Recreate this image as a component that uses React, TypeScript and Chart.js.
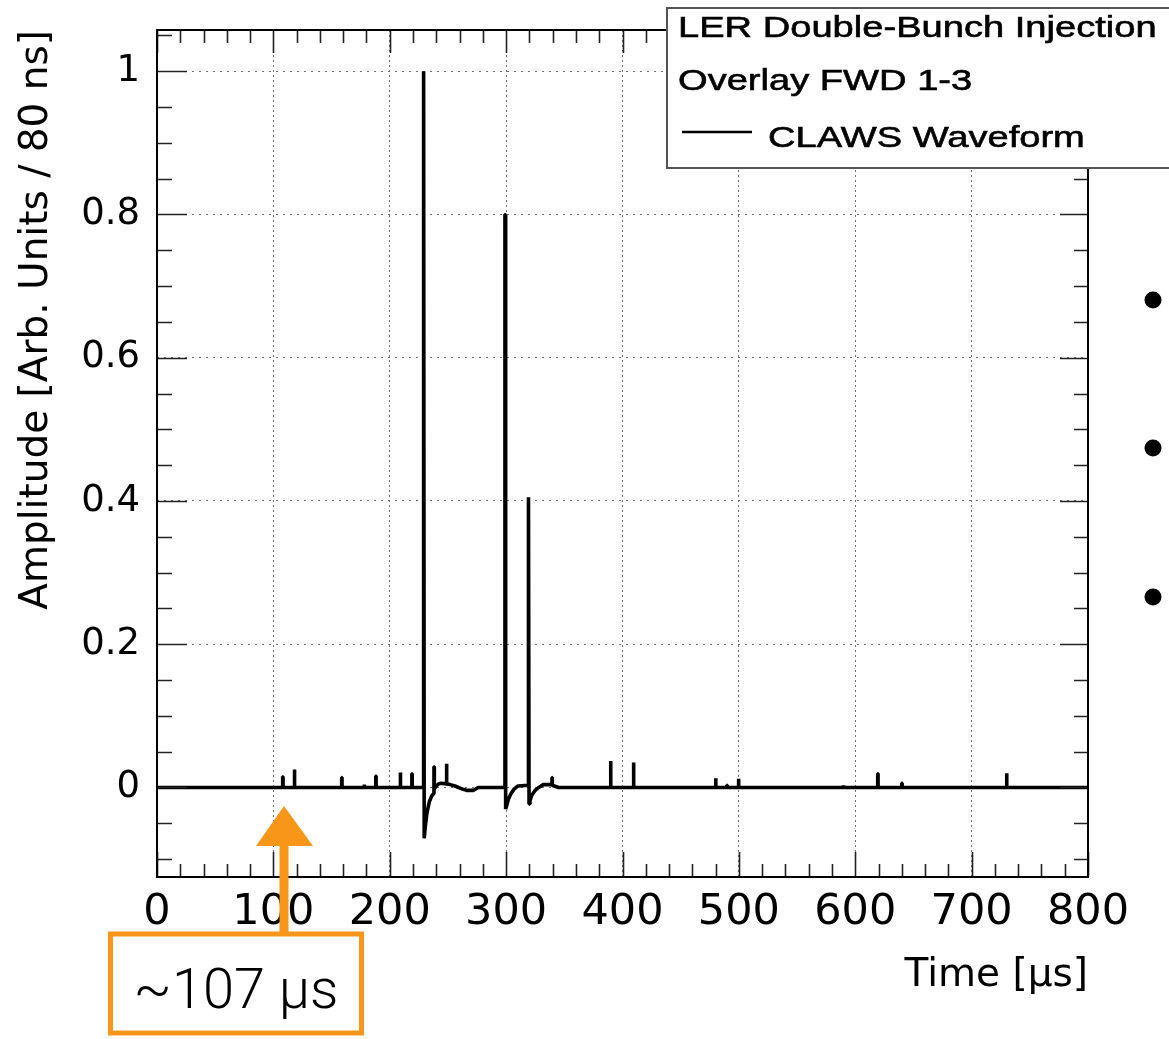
import React, { useEffect, useRef } from "react";
import { Chart, registerables } from "chart.js";

Chart.register(...registerables);

// ---- axis definitions ----
const xTickValues = [0, 100, 200, 300, 400, 500, 600, 700, 800];
const xTickLabels = ["0", "100", "200", "300", "400", "500", "600", "700", "800"];
const yTickValues = [0, 0.2, 0.4, 0.6, 0.8, 1];
const yTickLabels = ["0", "0.2", "0.4", "0.6", "0.8", "1"];
const xRange = [0, 800];
const yRange = [-0.125, 1.0575];

// ---- waveform data (time in µs, amplitude in arb. units) ----
// single-bin spikes sitting on the baseline
const spikeTimes = [108, 118, 158.7, 178, 188, 209, 219, 389.7, 409.4, 480, 489.7, 499.6, 570, 589.8, 619.3, 640, 680, 730];
const spikeHeights = [0.015, 0.025, 0.014, 0.004, 0.016, 0.021, 0.019, 0.037, 0.035, 0.013, 0.003, 0.012, 0.002, 0.003, 0.019, 0.006, 0.002, 0.02];

// first injection pulse (~229 µs) with undershoot and after-pulses
const pulse1Time = [228.9, 228.9, 229.3, 229.6, 230.5, 232, 234, 236, 238, 238, 238.3, 238.3, 240, 242, 244, 248.7, 248.7, 249, 249, 252, 256, 262, 266, 272, 276];
const pulse1Amp = [0, 1.0, 1.0, -0.071, -0.055, -0.035, -0.02, -0.012, -0.008, 0.029, 0.029, -0.002, 0.002, 0.005, 0.006, 0.005, 0.033, 0.033, 0.005, 0.004, 0.002, -0.002, -0.004, -0.004, 0];

// second pulse (~299 µs)
const pulse2Time = [299.0, 299.0, 299.3, 299.6, 300.5, 302, 304, 307, 310, 318.9];
const pulse2Amp = [0, 0.8, 0.8, -0.03, -0.025, -0.016, -0.009, -0.002, 0.002, 0.003];

// third pulse (~319 µs)
const pulse3Time = [319.1, 319.1, 319.4, 319.7, 320.5, 322, 325, 328, 332, 339.4, 339.4, 339.7, 339.7, 345];
const pulse3Amp = [0.003, 0.405, 0.405, -0.023, -0.018, -0.011, -0.004, 0.0, 0.004, 0.004, 0.014, 0.014, 0.003, 0];

const legendLines = ["LER Double-Bunch Injection", "Overlay FWD 1-3"];
const seriesName = "CLAWS Waveform";
const annotationText = "~107 µs";

function buildWaveform() {
  type Seg = { start: number; pts: { x: number; y: number }[] };
  const segs: Seg[] = [];
  const w = 0.3;
  spikeTimes.forEach((t, i) => {
    const h = spikeHeights[i];
    segs.push({ start: t, pts: [{ x: t, y: 0 }, { x: t, y: h }, { x: t + w, y: h }, { x: t + w, y: 0 }] });
  });
  [[pulse1Time, pulse1Amp], [pulse2Time, pulse2Amp], [pulse3Time, pulse3Amp]].forEach(([ts, as]) => {
    segs.push({ start: ts[0], pts: ts.map((t, i) => ({ x: t, y: as[i] })) });
  });
  segs.sort((a, b) => a.start - b.start);
  const out: { x: number; y: number }[] = [{ x: xRange[0], y: 0 }];
  segs.forEach((s) => out.push(...s.pts));
  out.push({ x: xRange[1], y: 0 });
  return out;
}

const decorPlugin = {
  id: "decor",
  afterDraw(chart: any) {
    const ctx: CanvasRenderingContext2D = chart.ctx;
    const xs = chart.scales.x;
    const ys = chart.scales.y;
    const a = chart.chartArea;
    ctx.save();

    // ROOT-style ticks on all four sides
    ctx.strokeStyle = "#222";
    ctx.lineWidth = 1.6;
    ctx.beginPath();
    for (let v = xRange[0]; v <= xRange[1] + 1e-9; v += 20) {
      const major = Math.abs(v % 100) < 1e-6;
      const px = Math.round(xs.getPixelForValue(v)) + 0.5;
      ctx.moveTo(px, a.bottom);
      ctx.lineTo(px, a.bottom - (major ? 25 : 13));
      ctx.moveTo(px, a.top);
      ctx.lineTo(px, a.top + (major ? 23 : 13));
    }
    for (let k = -2; k <= 21; k++) {
      const v = k * 0.05;
      if (v < yRange[0] || v > yRange[1]) continue;
      const major = k % 4 === 0;
      const py = Math.round(ys.getPixelForValue(v)) + 0.5;
      ctx.moveTo(a.left, py);
      ctx.lineTo(a.left + (major ? 30 : 15), py);
      ctx.moveTo(a.right, py);
      ctx.lineTo(a.right - (major ? 28 : 14), py);
    }
    ctx.stroke();

    // frame
    ctx.strokeStyle = "#000";
    ctx.lineWidth = 2;
    ctx.strokeRect(a.left, a.top, a.right - a.left, a.bottom - a.top);

    // legend box
    ctx.fillStyle = "#fff";
    ctx.fillRect(667, 8, 520, 160);
    ctx.strokeStyle = "#555";
    ctx.lineWidth = 2;
    ctx.strokeRect(667, 8, 520, 160);
    ctx.fillStyle = "#000";
    ctx.font = '30px "Liberation Sans", Arial, sans-serif';
    ctx.textBaseline = "alphabetic";
    ctx.textAlign = "left";
    const drawStretched = (txt: string, x: number, y: number) => {
      ctx.save();
      ctx.translate(x, y);
      ctx.scale(1.27, 1);
      ctx.fillText(txt, 0, 0);
      ctx.lineWidth = 0.6;
      ctx.strokeStyle = "#000";
      ctx.strokeText(txt, 0, 0);
      ctx.restore();
    };
    drawStretched(legendLines[0], 678, 37);
    drawStretched(legendLines[1], 678, 90);
    ctx.strokeStyle = "#000";
    ctx.lineWidth = 2.5;
    ctx.beginPath();
    ctx.moveTo(682, 132);
    ctx.lineTo(752, 132);
    ctx.stroke();
    drawStretched(seriesName, 768, 147);

    // orange annotation arrow + box
    const orange = "#F8961A";
    ctx.fillStyle = orange;
    ctx.beginPath();
    ctx.moveTo(284, 806);
    ctx.lineTo(313, 846);
    ctx.lineTo(256, 846);
    ctx.closePath();
    ctx.fill();
    ctx.fillRect(279.5, 840, 9, 94);
    ctx.strokeStyle = orange;
    ctx.lineWidth = 5;
    ctx.strokeRect(110.5, 934, 251, 99);
    ctx.fillStyle = "#000";
    ctx.font = '300 56px Roboto, "Liberation Sans", sans-serif';
    ctx.textAlign = "center";
    ctx.fillText(annotationText, 236, 1008);

    // slide bullets at the right edge
    [300, 448, 597].forEach((by) => {
      ctx.beginPath();
      ctx.arc(1153, by, 8.5, 0, Math.PI * 2);
      ctx.fill();
    });

    ctx.restore();
  },
};

export default function App() {
  const ref = useRef<HTMLCanvasElement>(null);
  useEffect(() => {
    if (!ref.current) return;
    const chart = new Chart(ref.current, {
      type: "line",
      data: {
        datasets: [
          {
            label: seriesName,
            data: buildWaveform(),
            borderColor: "#000",
            borderWidth: 3.6,
            pointRadius: 0,
            tension: 0,
            fill: false,
            borderJoinStyle: "bevel",
            borderCapStyle: "butt",
          },
        ],
      },
      options: {
        animation: false,
        responsive: false,
        devicePixelRatio: 1,
        parsing: false as any,
        layout: { padding: { left: 0, top: 30, right: 81, bottom: 0 } },
        plugins: { legend: { display: false }, tooltip: { enabled: false } },
        scales: {
          x: {
            type: "linear",
            min: xRange[0],
            max: xRange[1],
            afterBuildTicks: (s: any) => {
              s.ticks = xTickValues.map((v) => ({ value: v }));
            },
            afterFit: (s: any) => {
              s.height = 162;
              s.paddingLeft = 0;
              s.paddingRight = 0;
            },
            grid: { color: "#707070", lineWidth: 1, drawTicks: false },
            border: { display: false, dash: [2, 3] },
            ticks: {
              padding: 10,
              color: "#000",
              autoSkip: false,
              maxRotation: 0,
              font: { family: '"DejaVu Sans", sans-serif', size: 43 },
              callback: (v: any) => {
                const i = xTickValues.findIndex((t) => Math.abs(t - v) < 1e-9);
                return i >= 0 ? xTickLabels[i] : "";
              },
            },
            title: {
              display: true,
              text: "Time [µs]",
              align: "end",
              color: "#000",
              font: { family: '"DejaVu Sans", sans-serif', size: 39 },
              padding: { top: 0, bottom: 40 },
            },
          },
          y: {
            type: "linear",
            min: yRange[0],
            max: yRange[1],
            afterBuildTicks: (s: any) => {
              s.ticks = yTickValues.map((v) => ({ value: v }));
            },
            afterFit: (s: any) => {
              s.width = 157;
              s.paddingTop = 0;
              s.paddingBottom = 0;
            },
            grid: { color: "#707070", lineWidth: 1, drawTicks: false },
            border: { display: false, dash: [2, 5] },
            ticks: {
              padding: 17,
              color: "#000",
              font: { family: '"DejaVu Sans", sans-serif', size: 37 },
              callback: (v: any) => {
                const i = yTickValues.findIndex((t) => Math.abs(t - v) < 1e-9);
                return i >= 0 ? yTickLabels[i] : "";
              },
            },
            title: {
              display: true,
              text: "Amplitude [Arb. Units / 80 ns]",
              align: "end",
              color: "#000",
              font: { family: '"DejaVu Sans", sans-serif', size: 39 },
              padding: { top: 13, bottom: 0 },
            },
          },
        },
      },
      plugins: [decorPlugin],
    } as any);
    return () => chart.destroy();
  }, []);
  return (
    <div style={{ position: "absolute", left: 0, top: 0, width: 1169, height: 1039, background: "#fff", overflow: "hidden" }}>
      <canvas ref={ref} width={1169} height={1039} style={{ display: "block", width: 1169, height: 1039 }} />
    </div>
  );
}
